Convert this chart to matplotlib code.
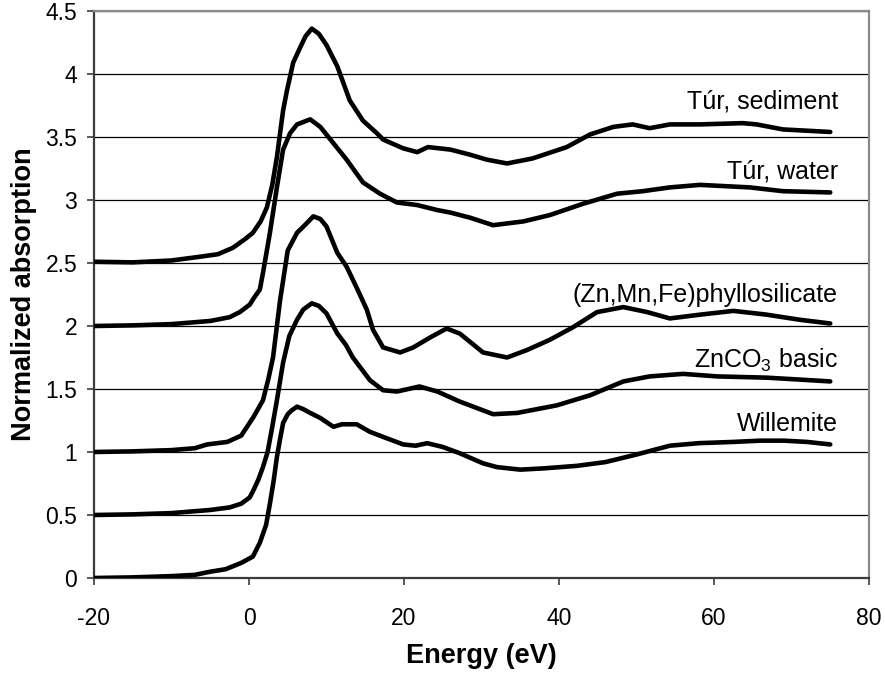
import matplotlib
matplotlib.use("Agg")
import matplotlib.pyplot as plt

plt.rcParams["font.family"] = ["Liberation Sans", "DejaVu Sans"]
plt.rcParams["mathtext.fontset"] = "custom"
plt.rcParams["mathtext.rm"] = "Liberation Sans"
plt.rcParams["mathtext.default"] = "rm"
plt.rcParams["axes.unicode_minus"] = False

# Willemite (offset 0)
wil_e = [-20, -15, -10, -7, -5, -3, -1, 0.5, 1.4, 2.2, 2.7, 3.2, 3.6, 4.0, 4.4, 5.0, 5.5, 6.2, 7.0,
         7.9, 9.2, 10.9, 12.0, 13.9, 15.6, 17.3, 19.9, 21.5, 23, 25, 27.2, 30.2, 32, 35, 38, 42.3,
         46, 50, 54.3, 58, 62.5, 66, 69, 72, 75]
wil_a = [0.0, 0.005, 0.015, 0.025, 0.05, 0.07, 0.12, 0.17, 0.28, 0.42, 0.59, 0.78, 0.96, 1.10, 1.23,
         1.30, 1.33, 1.36, 1.34, 1.31, 1.27, 1.20, 1.22, 1.22, 1.16, 1.12, 1.06, 1.05, 1.07, 1.04,
         0.99, 0.91, 0.88, 0.86, 0.87, 0.89, 0.92, 0.98, 1.05, 1.07, 1.08, 1.09, 1.09, 1.08, 1.06]

# ZnCO3 basic (offset 0.5)
znc_e = [-20, -15, -10, -7, -5, -2.5, -1, 0.1, 0.6, 1.2, 1.8, 2.4, 3.0, 3.6, 4.4, 5.2, 6.2, 7.0,
         8.1, 9.0, 10.0, 11.4, 12.5, 13.4, 15.6, 17.3, 19.1, 22, 24.3, 27.2, 28.5, 31.5, 34.6,
         39.7, 44, 48.3, 51.7, 56, 60.4, 66.8, 71, 75]
znc_a = [0.50, 0.505, 0.515, 0.53, 0.54, 0.56, 0.59, 0.64, 0.70, 0.78, 0.88, 1.00, 1.20, 1.41,
         1.71, 1.92, 2.05, 2.13, 2.18, 2.16, 2.10, 1.94, 1.85, 1.75, 1.57, 1.49, 1.48, 1.52, 1.48,
         1.40, 1.37, 1.30, 1.31, 1.37, 1.45, 1.56, 1.60, 1.62, 1.60, 1.59, 1.575, 1.56]

# (Zn,Mn,Fe)phyllosilicate (offset 1.0)
phy_e = [-20, -15, -10, -7, -5.4, -2.8, -1, 0.6, 1.8, 2.5, 3.1, 4.0, 5.0, 6.2, 7.2, 8.3, 9.2,
         10.0, 11.4, 12.6, 14.0, 15.2, 16.0, 17.3, 19.5, 21.2, 23.4, 25.5, 27.2, 30.2, 33.3,
         35.9, 38.8, 41.8, 44.9, 48.3, 51.4, 54.3, 58.2, 62.5, 66.8, 71, 75]
phy_a = [1.0, 1.005, 1.015, 1.03, 1.06, 1.08, 1.13, 1.28, 1.41, 1.58, 1.75, 2.2, 2.6, 2.74, 2.80,
         2.87, 2.85, 2.79, 2.58, 2.47, 2.29, 2.13, 1.97, 1.83, 1.79, 1.83, 1.91, 1.98, 1.94, 1.79,
         1.75, 1.81, 1.89, 1.99, 2.11, 2.15, 2.11, 2.06, 2.09, 2.12, 2.09, 2.05, 2.02]

# Tur, water (offset 2.0)
wat_e = [-20, -15, -10, -7, -5, -2.5, -1.2, 0.1, 0.5, 1.4, 1.8, 2.7, 3.6, 4.4, 5.3, 6.2, 7.9,
         9.2, 10.9, 12.6, 14.7, 16.9, 19.1, 21.7, 24.3, 26, 28.5, 31.5, 35.4, 38.8, 43.1, 47.5,
         50.8, 54.3, 58.2, 64.6, 68.9, 75]
wat_a = [2.0, 2.005, 2.015, 2.03, 2.04, 2.07, 2.11, 2.17, 2.21, 2.29, 2.42, 2.74, 3.10, 3.40,
         3.53, 3.60, 3.64, 3.58, 3.45, 3.32, 3.14, 3.05, 2.98, 2.96, 2.92, 2.90, 2.86, 2.80,
         2.83, 2.88, 2.97, 3.05, 3.07, 3.10, 3.12, 3.10, 3.07, 3.06]

# Tur, sediment (offset 2.5)
sed_e = [-20, -15, -10, -6.3, -4, -2.1, -0.5, 0.5, 1.5, 2.3, 3.0, 3.6, 4.4, 4.9, 5.7, 6.6, 7.3,
         8.1, 9.0, 10.0, 11.4, 13.0, 14.7, 16.5, 17.3, 19.9, 21.7, 23.1, 26, 28.5, 30.7, 33.3,
         36.6, 41, 44, 47, 49.5, 51.7, 54.3, 58.2, 63.7, 65.5, 68.9, 75]
sed_a = [2.51, 2.505, 2.52, 2.55, 2.57, 2.62, 2.69, 2.74, 2.83, 2.94, 3.12, 3.34, 3.71, 3.87,
         4.09, 4.21, 4.30, 4.36, 4.32, 4.23, 4.06, 3.79, 3.63, 3.53, 3.48, 3.41, 3.38, 3.42,
         3.40, 3.36, 3.32, 3.29, 3.33, 3.42, 3.52, 3.58, 3.60, 3.57, 3.60, 3.60, 3.61, 3.60,
         3.56, 3.54]

labels = ["Túr, sediment", "Túr, water", "(Zn,Mn,Fe)phyllosilicate", "ZnCO$_3$ basic", "Willemite"]
label_y = [3.73, 3.17, 2.19, 1.667, 1.167]


def main():
    fig = plt.figure(figsize=(8.85, 6.75), dpi=100)
    ax = fig.add_axes([94 / 885, 97 / 675, 775 / 885, 567 / 675])

    for e, a in [(wil_e, wil_a), (znc_e, znc_a), (phy_e, phy_a), (wat_e, wat_a), (sed_e, sed_a)]:
        ax.plot(e, a, color="black", lw=3.3, solid_joinstyle="round", solid_capstyle="round", zorder=3)

    for txt, y in zip(labels, label_y):
        ax.text(76.0, y, txt, ha="right", va="baseline", fontsize=18, zorder=4)

    ax.set_xlim(-20, 80)
    ax.set_ylim(0, 4.5)
    ax.set_xticks(range(-20, 81, 20))
    ax.set_yticks([i * 0.5 for i in range(10)])
    ax.set_yticklabels(["0", "0.5", "1", "1.5", "2", "2.5", "3", "3.5", "4", "4.5"])
    ax.yaxis.grid(True, color="black", lw=0.9)
    ax.set_axisbelow(True)

    for s in ["left", "bottom"]:
        ax.spines[s].set_color("#3c3c3c")
        ax.spines[s].set_linewidth(1.6)
    for s in ["top", "right"]:
        ax.spines[s].set_color("#8a8a8a")
        ax.spines[s].set_linewidth(1.6)

    ax.tick_params(axis="x", direction="out", length=5, width=1.2, color="#3c3c3c",
                   labelsize=16.5, pad=16)
    ax.tick_params(axis="y", direction="out", length=5, width=1.2, color="#3c3c3c",
                   labelsize=16.5, pad=7)

    ax.set_xlabel("Energy (eV)", fontsize=19.5, fontweight="bold", labelpad=9)
    ax.set_ylabel("Normalized absorption", fontsize=19.5, fontweight="bold", labelpad=6)

    fig.savefig("out.png", dpi=100)
    plt.close(fig)


if __name__ == "__main__":
    main()
